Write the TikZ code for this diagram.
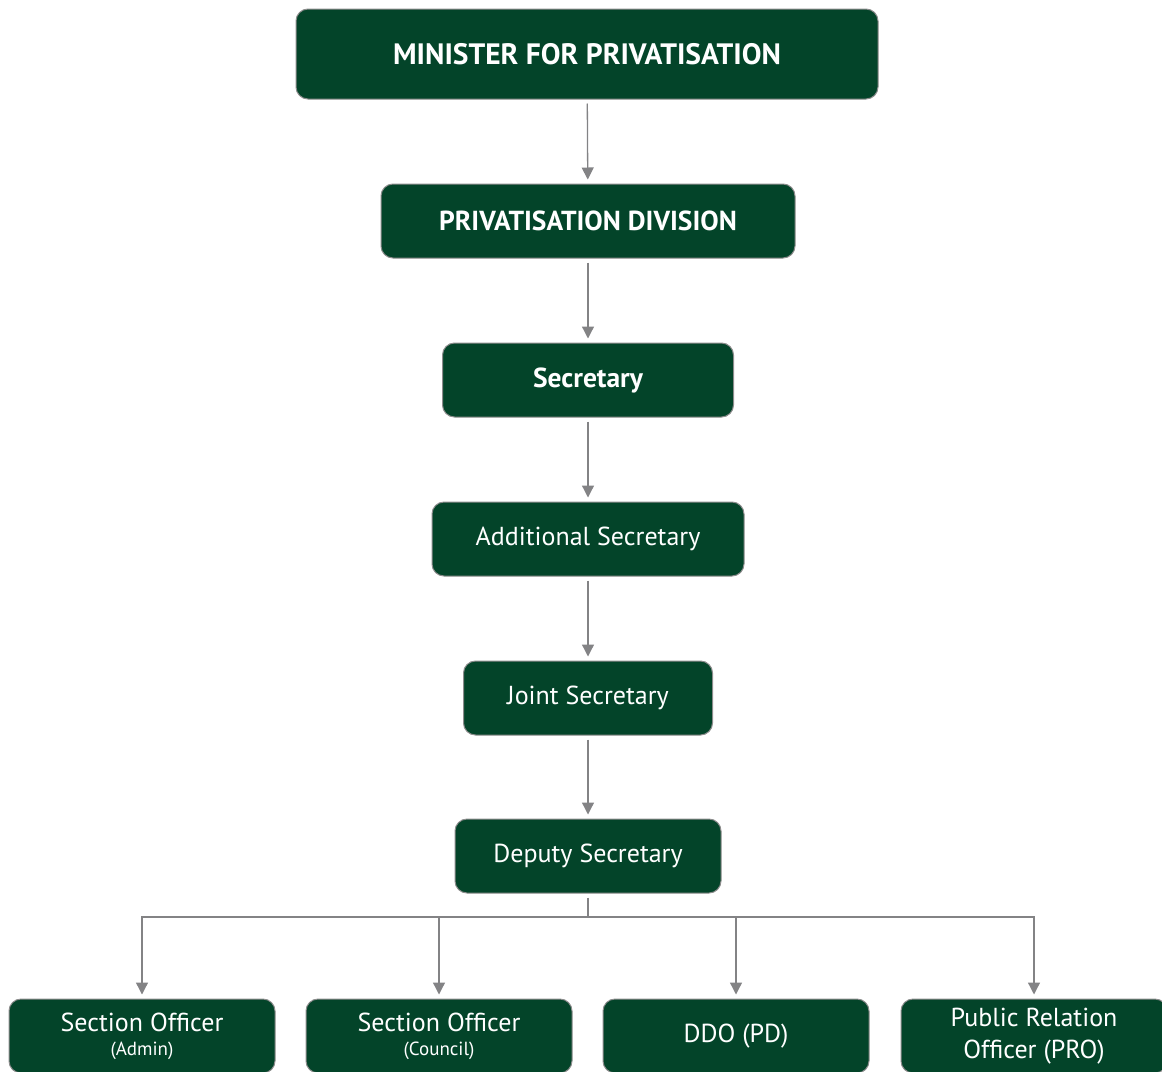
\documentclass[tikz,border=0pt]{standalone}
\usepackage{fontspec}
\setmainfont{PT Sans}
\usetikzlibrary{arrows.meta}
\definecolor{boxgreen}{HTML}{034429}
\definecolor{boxedge}{HTML}{8C8C8C}
\definecolor{linkgrey}{HTML}{838385}
\tikzset{
  orgbox/.style={draw=boxedge, line width=1pt, fill=boxgreen, rounded corners=12pt,
    text=white, align=center, inner sep=0pt, minimum height=74pt},
  headtext/.style={font=\fontsize{27.5}{32}\selectfont\bfseries},
  bodytext/.style={font=\fontsize{26}{31}\selectfont},
  smalltext/.style={font=\fontsize{19}{22}\selectfont},
  link/.style={draw=linkgrey, line width=1.3pt},
  linkarrow/.style={link, -{Triangle[width=12pt,length=12pt]}, shorten >=4pt, shorten <=4pt},
}
\begin{document}
\begin{tikzpicture}[x=1pt,y=-1pt]
\useasboundingbox (0,0) rectangle (1162,1071);
\node[orgbox, headtext, font=\fontsize{29.5}{34}\selectfont\bfseries, minimum width=582pt, minimum height=90pt] (min) at (587,54) {MINISTER FOR PRIVATISATION};
\node[orgbox, headtext, minimum width=414pt] (div) at (588,221) {PRIVATISATION DIVISION};
\node[orgbox, headtext, minimum width=291pt] (sec) at (588,380) {Secretary};
\node[orgbox, bodytext, minimum width=312pt] (add) at (588,539) {Additional Secretary};
\node[orgbox, bodytext, minimum width=249pt] (joint) at (588,698) {Joint Secretary};
\node[orgbox, bodytext, minimum width=266pt] (dep) at (588,856) {Deputy Secretary};

\node[orgbox, bodytext, minimum width=266pt] (soa) at (142,1036)
  {Section Officer\\[-7pt]{\fontsize{19}{22}\selectfont (Admin)}};
\node[orgbox, bodytext, minimum width=266pt] (soc) at (439,1036)
  {Section Officer\\[-7pt]{\fontsize{19}{22}\selectfont (Council)}};
\node[orgbox, bodytext, minimum width=266pt] (ddo) at (736,1036) {DDO (PD)};
\node[orgbox, bodytext, minimum width=266pt] (pro) at (1034,1036) {Public Relation\\[1pt]Officer (PRO)};

\draw[linkarrow] (min) -- (div);
\draw[linkarrow] (div) -- (sec);
\draw[linkarrow] (sec) -- (add);
\draw[linkarrow] (add) -- (joint);
\draw[linkarrow] (joint) -- (dep);

\coordinate (bus) at (588,917);
\draw[link, shorten <=4pt] (dep) -- (bus);
\draw[linkarrow, shorten <=0pt] (bus) -| (soa);
\draw[linkarrow, shorten <=0pt] (bus) -| (soc);
\draw[linkarrow, shorten <=0pt] (bus) -| (ddo);
\draw[linkarrow, shorten <=0pt] (bus) -| (pro);
\end{tikzpicture}
\end{document}
